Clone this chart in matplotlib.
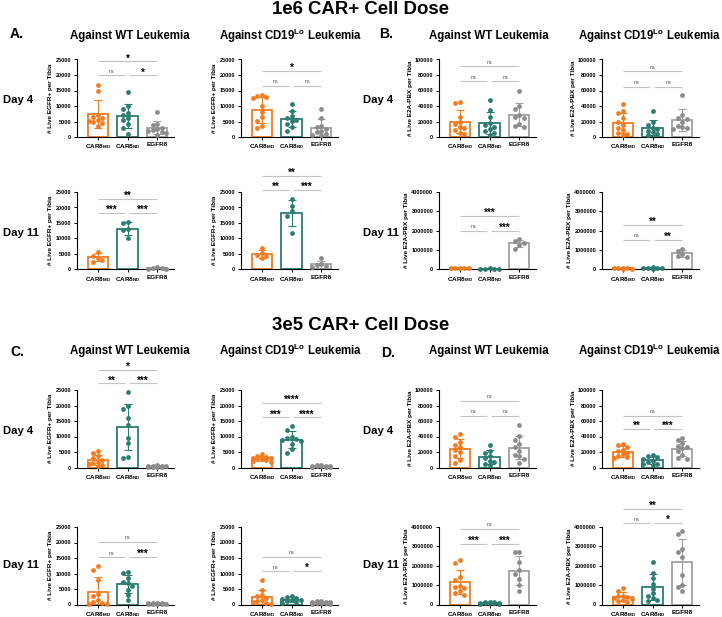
import numpy as np
import matplotlib
matplotlib.use("Agg")
import matplotlib.pyplot as plt

plt.rcParams['font.family'] = ['Liberation Sans', 'DejaVu Sans']
plt.rcParams['mathtext.fontset'] = 'custom'
plt.rcParams['mathtext.rm'] = 'Liberation Sans'
plt.rcParams['mathtext.bf'] = 'Liberation Sans:bold'
plt.rcParams['mathtext.it'] = 'Liberation Sans:italic'

# ---------------- data ----------------
groups = [r"CAR8$_{\mathbf{MD}}$", r"CAR8$_{\mathbf{ND}}$", "EGFR8"]
ylabel_egfr = "# Live EGFR+ per Tibia"
ylabel_e2a = "# Live E2A-PBX per Tibia"

# 1e6 dose, Day 4
a_d4_wt_md = [16700, 14900, 7000, 6500, 6000, 5500, 5200, 4800, 4500, 3500]
a_d4_wt_nd = [14500, 10000, 9000, 7800, 7000, 6200, 5400, 4300, 3000, 1100]
a_d4_wt_eg = [8100, 4300, 3800, 3000, 2500, 2200, 2000, 1500, 1200, 800]
a_d4_lo_md = [13500, 13300, 12800, 12500, 10000, 8000, 6500, 5300, 3500, 2800]
a_d4_lo_nd = [10800, 8500, 6900, 6100, 5500, 5100, 4300, 3200, 1800]
a_d4_lo_eg = [9000, 6000, 3700, 3200, 2500, 2000, 1500, 1000, 800, 500]
b_d4_wt_md = [45000, 44500, 26000, 20000, 17000, 13000, 12000, 9000, 5000, 4500]
b_d4_wt_nd = [48000, 34500, 25800, 18000, 15000, 13000, 10000, 8000, 5000, 2000]
b_d4_wt_eg = [60000, 40000, 36000, 28000, 26000, 24000, 17000, 14000, 13000]
b_d4_lo_md = [42000, 33000, 31000, 24000, 20000, 15000, 12000, 9000, 5000, 4000, 3000]
b_d4_lo_nd = [33500, 19000, 15000, 12000, 10000, 8000, 6000, 4000, 2000]
b_d4_lo_eg = [54000, 28000, 25000, 23000, 19000, 14000, 13000, 11000, 10000]
# 1e6 dose, Day 11
a_d11_wt_md = [5700, 4500, 3800, 3200, 2400]
a_d11_wt_nd = [15200, 15000, 13000, 12600, 10200]
a_d11_wt_eg = [700, 500, 400, 300, 200]
a_d11_lo_md = [6800, 5200, 4800, 4200, 3600]
a_d11_lo_nd = [22700, 20400, 18800, 17400, 11800]
a_d11_lo_eg = [3700, 1700, 1400, 1100, 800]
b_d11_wt_md = [100000, 90000, 80000, 70000, 60000]
b_d11_wt_nd = [60000, 50000, 40000, 30000, 20000]
b_d11_wt_eg = [1550000, 1480000, 1370000, 1280000, 1060000]
b_d11_lo_md = [90000, 80000, 70000, 60000, 50000, 40000]
b_d11_lo_nd = [110000, 90000, 80000, 70000, 60000, 50000]
b_d11_lo_eg = [1060000, 940000, 820000, 690000, 650000]
# 3e5 dose, Day 4
c_d4_wt_md = [5300, 4800, 3700, 3000, 2400, 1900, 1500, 1000, 700, 400]
c_d4_wt_nd = [24200, 20000, 19000, 16000, 13800, 9600, 8000, 3400, 3000]
c_d4_wt_eg = [700, 600, 500, 400, 400, 300, 300, 200, 200]
c_d4_lo_md = [4300, 3700, 3400, 3200, 3000, 2800, 2600, 2300, 2000, 1800]
c_d4_lo_nd = [13300, 12200, 10000, 9600, 9300, 9000, 8700, 7500, 6000, 4600]
c_d4_lo_eg = [800, 700, 600, 500, 500, 400, 400, 300, 300, 200]
d_d4_wt_md = [43000, 40000, 33000, 29000, 26000, 23000, 20000, 15000, 10000, 5500]
d_d4_wt_nd = [29500, 21000, 19000, 15000, 12000, 9000, 7000, 5000, 3000]
d_d4_wt_eg = [55000, 41000, 36000, 30000, 26000, 21000, 16000, 15000, 11000, 6000]
d_d4_lo_md = [30000, 29000, 27000, 23000, 21000, 19000, 17000, 15000, 13000, 12000]
d_d4_lo_nd = [16000, 15000, 13000, 11000, 9000, 7000, 5000, 4000, 3000]
d_d4_lo_eg = [38000, 35000, 31000, 28000, 27000, 25000, 21000, 16000, 12000, 11000]
# 3e5 dose, Day 11
c_d11_wt_md = [12300, 11100, 7900, 3500, 2800, 1500, 900, 400, 200, 100]
c_d11_wt_nd = [10600, 10100, 8500, 7400, 6800, 6100, 4800, 3200, 1600]
c_d11_wt_eg = [600, 500, 400, 400, 300, 300, 200, 200, 100]
c_d11_lo_md = [7800, 4800, 3200, 2700, 2000, 1600, 1000, 700, 500, 300]
c_d11_lo_nd = [2800, 2400, 2100, 1900, 1600, 1300, 1000, 800, 600]
c_d11_lo_eg = [1100, 1000, 900, 800, 700, 600, 500, 400, 300, 200]
d_d11_wt_md = [2300000, 2160000, 1400000, 1250000, 950000, 900000, 850000, 700000, 600000, 500000]
d_d11_wt_nd = [150000, 130000, 110000, 100000, 90000, 80000, 70000, 60000, 50000, 40000]
d_d11_wt_eg = [2720000, 2700000, 2200000, 1800000, 1600000, 1300000, 1000000, 700000]
d_d11_lo_md = [850000, 680000, 460000, 420000, 380000, 340000, 290000, 250000, 170000, 120000]
d_d11_lo_nd = [2180000, 1650000, 1350000, 1050000, 820000, 580000, 450000, 350000, 250000, 200000]
d_d11_lo_eg = [3800000, 3620000, 2840000, 2720000, 2470000, 1530000, 1020000, 890000, 680000]

# significance labels: (MD vs ND, ND vs EGFR8, MD vs EGFR8)
sig_a_d4_wt = ["ns", "*", "*"]
sig_a_d4_lo = ["ns", "ns", "*"]
sig_b_d4_wt = ["ns", "ns", "ns"]
sig_b_d4_lo = ["ns", "ns", "ns"]
sig_a_d11_wt = ["***", "***", "**"]
sig_a_d11_lo = ["**", "***", "**"]
sig_b_d11_wt = ["ns", "***", "***"]
sig_b_d11_lo = ["ns", "**", "**"]
sig_c_d4_wt = ["**", "***", "*"]
sig_c_d4_lo = ["***", "****", "****"]
sig_d_d4_wt = ["ns", "ns", "ns"]
sig_d_d4_lo = ["**", "***", "ns"]
sig_c_d11_wt = ["ns", "***", "ns"]
sig_c_d11_lo = ["ns", "*", "ns"]
sig_d_d11_wt = ["***", "***", "ns"]
sig_d_d11_lo = ["ns", "*", "**"]

# ---------------- layout / style ----------------
colors = ['#F47B20', '#2B7D72', '#8C8C8C']
bar_edges = ['#F47B20', '#2B7D72', '#A0A0A0']
W, H = 722, 617
col_left = [76.5, 240.5, 438.5, 601.5]
ax_w = 97.0
row_top = [59.5, 192.0, 390.0, 527.0]
ax_h = 77.5
label_off = {25000: -23.3, 100000: -25.5, 4000000: -29.0}

panels = [
    # row, col, data, ymax, ylabel, sig, (top, inner) bracket height as axis fraction
    (0, 0, [a_d4_wt_md, a_d4_wt_nd, a_d4_wt_eg], 25000, ylabel_egfr, sig_a_d4_wt, (0.975, 0.795)),
    (0, 1, [a_d4_lo_md, a_d4_lo_nd, a_d4_lo_eg], 25000, ylabel_egfr, sig_a_d4_lo, (0.851, 0.66)),
    (0, 2, [b_d4_wt_md, b_d4_wt_nd, b_d4_wt_eg], 100000, ylabel_e2a, sig_b_d4_wt, (0.914, 0.72)),
    (0, 3, [b_d4_lo_md, b_d4_lo_nd, b_d4_lo_eg], 100000, ylabel_e2a, sig_b_d4_lo, (0.849, 0.647)),
    (1, 0, [a_d11_wt_md, a_d11_wt_nd, a_d11_wt_eg], 25000, ylabel_egfr, sig_a_d11_wt, (0.91, 0.73)),
    (1, 1, [a_d11_lo_md, a_d11_lo_nd, a_d11_lo_eg], 25000, ylabel_egfr, sig_a_d11_lo, (1.205, 1.026)),
    (1, 2, [b_d11_wt_md, b_d11_wt_nd, b_d11_wt_eg], 4000000, ylabel_e2a, sig_b_d11_wt, (0.687, 0.50)),
    (1, 3, [b_d11_lo_md, b_d11_lo_nd, b_d11_lo_eg], 4000000, ylabel_e2a, sig_b_d11_lo, (0.571, 0.386)),
    (2, 0, [c_d4_wt_md, c_d4_wt_nd, c_d4_wt_eg], 25000, ylabel_egfr, sig_c_d4_wt, (1.255, 1.085)),
    (2, 1, [c_d4_lo_md, c_d4_lo_nd, c_d4_lo_eg], 25000, ylabel_egfr, sig_c_d4_lo, (0.83, 0.647)),
    (2, 2, [d_d4_wt_md, d_d4_wt_nd, d_d4_wt_eg], 100000, ylabel_e2a, sig_d_d4_wt, (0.86, 0.668)),
    (2, 3, [d_d4_lo_md, d_d4_lo_nd, d_d4_lo_eg], 100000, ylabel_e2a, sig_d_d4_lo, (0.668, 0.502)),
    (3, 0, [c_d11_wt_md, c_d11_wt_nd, c_d11_wt_eg], 25000, ylabel_egfr, sig_c_d11_wt, (0.81, 0.61)),
    (3, 1, [c_d11_lo_md, c_d11_lo_nd, c_d11_lo_eg], 25000, ylabel_egfr, sig_c_d11_lo, (0.617, 0.434)),
    (3, 2, [d_d11_wt_md, d_d11_wt_nd, d_d11_wt_eg], 4000000, ylabel_e2a, sig_d_d11_wt, (0.98, 0.787)),
    (3, 3, [d_d11_lo_md, d_d11_lo_nd, d_d11_lo_eg], 4000000, ylabel_e2a, sig_d_d11_lo, (1.234, 1.05)),
]

XLIM = (-0.72, 2.55)
unit_px = ax_w / (XLIM[1] - XLIM[0])


def swarm(vals, ymax, diam=4.8, maxoff_px=10.0):
    vals = np.asarray(vals, float)
    ypx = vals / ymax * ax_h
    order = np.argsort(-vals)
    step = diam * 0.95
    cands = [0]
    k = 1
    while k * step <= maxoff_px + 0.01:
        cands += [-k * step, k * step]
        k += 1
    placed = []
    offs = np.zeros(len(vals))
    for i in order:
        best, best_d = 0.0, -1
        for c in cands:
            d = min([np.hypot(c - px, ypx[i] - py) for px, py in placed], default=1e9)
            if d >= diam * 0.92:
                best = c
                best_d = 1e9
                break
            if d > best_d:
                best, best_d = c, d
        placed.append((best, ypx[i]))
        offs[i] = best / unit_px
    return offs


fig = plt.figure(figsize=(W / 100, H / 100), dpi=100)

for (r, c, data, ymax, ylab, sig, (htop, hin)) in panels:
    ax = fig.add_axes([col_left[c] / W, 1 - (row_top[r] + ax_h) / H, ax_w / W, ax_h / H])
    for i, vals in enumerate(data):
        v = np.asarray(vals, float)
        m, sd = v.mean(), v.std(ddof=1)
        ax.bar(i, m, width=0.68, facecolor='white', edgecolor=bar_edges[i], linewidth=1.3, zorder=1)
        ax.errorbar(i, m, yerr=sd, color=bar_edges[i], capsize=3.2, elinewidth=0.8,
                    capthick=0.8, zorder=2)
        ax.scatter(i + swarm(v, ymax), v, s=12, color=colors[i], linewidths=0, zorder=3, clip_on=False)
    ax.set_xlim(*XLIM)
    ax.set_ylim(0, ymax)
    yt = np.linspace(0, ymax, 6) if ymax != 4000000 else np.linspace(0, ymax, 5)
    ax.set_yticks(yt, labels=[f"{int(t)}" for t in yt], fontsize=4.0, fontweight='bold')
    ax.set_xticks([0, 1, 2], labels=groups, fontsize=4.6, fontweight='bold')
    ax.tick_params(axis='both', length=2.5, width=0.7, pad=1.2)
    for s in ['top', 'right']:
        ax.spines[s].set_visible(False)
    for s in ['left', 'bottom']:
        ax.spines[s].set_linewidth(0.8)
    ax.set_ylabel(ylab, fontsize=4.6, fontweight='bold')
    ax.yaxis.set_label_coords(label_off[ymax] / ax_w, 0.5)
    # significance brackets
    lc = '#C4C4C4'
    segs = [((0.0, 0.93), hin, sig[0]), ((1.05, 2.0), hin, sig[1]), ((0.0, 2.0), htop, sig[2])]
    for (x0, x1), hf, lab in segs:
        y = hf * ymax
        ax.plot([x0, x1], [y, y], color=lc, lw=0.8, clip_on=False, solid_capstyle='butt', zorder=0)
        xm = (x0 + x1) / 2
        if lab == 'ns':
            ax.annotate(lab, (xm, y), xytext=(0, 1.7), textcoords='offset points', ha='center',
                        va='baseline', fontsize=3.8, color='#444444', annotation_clip=False)
        else:
            ax.annotate(lab, (xm, y), xytext=(0, 0.0), textcoords='offset points', ha='center',
                        va='baseline', fontsize=7.0, fontweight='bold', color='black',
                        annotation_clip=False)

# ---------------- figure texts ----------------
def ftext(x, y, s, **kw):
    fig.text(x / W, 1 - y / H, s, **kw)

ftext(361, 9, "1e6 CAR+ Cell Dose", ha='center', va='center', fontsize=13.4, fontweight='bold')
ftext(361, 325, "3e5 CAR+ Cell Dose", ha='center', va='center', fontsize=13.4, fontweight='bold')
for (x, y, s) in [(10, 34, "A."), (379, 34, "B."), (10, 352, "C."), (381, 353, "D.")]:
    ftext(x, y, s, ha='left', va='center', fontsize=10, fontweight='bold')
title_wt = "Against WT Leukemia"
title_lo = r"Against CD19$^{\mathbf{Lo}}$ Leukemia"
for y in [36, 351]:
    ftext(130, y, title_wt, ha='center', va='center', fontsize=8.3, fontweight='bold')
    ftext(291, y, title_lo, ha='center', va='center', fontsize=8.3, fontweight='bold')
    ftext(488.5, y, title_wt, ha='center', va='center', fontsize=8.3, fontweight='bold')
    ftext(650, y, title_lo, ha='center', va='center', fontsize=8.3, fontweight='bold')
for x in [3.5, 363]:
    ftext(x, 100, "Day 4", ha='left', va='center', fontsize=8.1, fontweight='bold')
    ftext(x, 233, "Day 11", ha='left', va='center', fontsize=8.1, fontweight='bold')
    ftext(x, 431, "Day 4", ha='left', va='center', fontsize=8.1, fontweight='bold')
    ftext(x, 565, "Day 11", ha='left', va='center', fontsize=8.1, fontweight='bold')

fig.savefig("out.png", dpi=100)
